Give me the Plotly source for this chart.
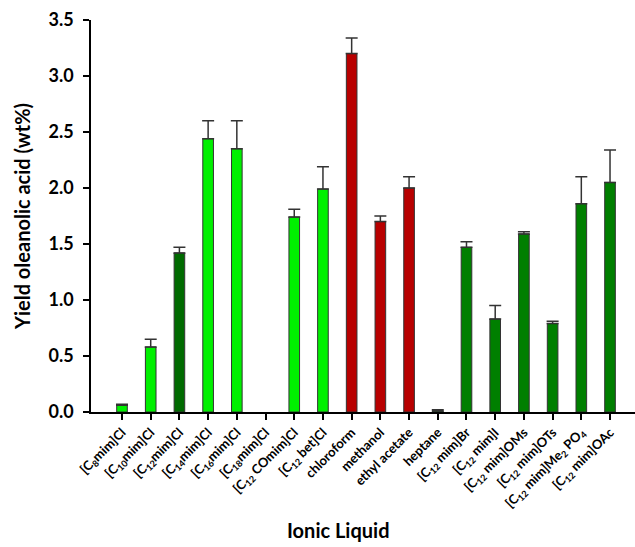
import plotly.graph_objects as go

categories = [
    "[C<sub>8</sub>mim]Cl", "[C<sub>10</sub>mim]Cl", "[C<sub>12</sub>mim]Cl",
    "[C<sub>14</sub>mim]Cl", "[C<sub>16</sub>mim]Cl", "[C<sub>18</sub>mim]Cl",
    "[C<sub>12</sub> COmim]Cl", "[C<sub>12</sub> bet]Cl", "chloroform", "methanol",
    "ethyl acetate", "heptane", "[C<sub>12</sub> mim]Br", "[C<sub>12</sub> mim]I",
    "[C<sub>12</sub> mim]OMs", "[C<sub>12</sub> mim]OTs",
    "[C<sub>12</sub> mim]Me<sub>2</sub> PO<sub>4</sub>", "[C<sub>12</sub> mim]OAc",
]
values = [0.06, 0.58, 1.42, 2.44, 2.35, None, 1.74, 1.99, 3.20, 1.70,
          2.00, 0.01, 1.47, 0.83, 1.59, 0.79, 1.86, 2.05]
errors = [0.01, 0.07, 0.05, 0.16, 0.25, None, 0.07, 0.20, 0.14, 0.05,
          0.10, 0.01, 0.05, 0.12, 0.02, 0.02, 0.24, 0.29]
colors = ["#00F000", "#00F000", "#006A00", "#00F000", "#00F000", "#00F000",
          "#00F000", "#00F000", "#B80000", "#B80000", "#B80000", "#007F00",
          "#007F00", "#007F00", "#007F00", "#007F00", "#007F00", "#007F00"]

FONT = "Lato, 'Open Sans', sans-serif"
x_idx = list(range(len(categories)))

fig = go.Figure(go.Bar(
    x=x_idx, y=values, width=0.37,
    marker=dict(color=colors, line=dict(color="#333333", width=1)),
    error_y=dict(type="data", array=errors, arrayminus=[0] * len(errors),
                 symmetric=False, color="#333333", thickness=1.5, width=6),
))

fig.update_layout(
    width=635, height=547,
    margin=dict(l=91, r=0, t=20, b=135, autoexpand=False),
    plot_bgcolor="white", paper_bgcolor="white",
    showlegend=False,
    font=dict(family=FONT, color="black"),
)
fig.update_xaxes(
    range=[-1.08, 17.87], tickmode="array", tickvals=x_idx, ticktext=categories,
    tickangle=-45, tickfont=dict(family=FONT, size=13, color="black", weight="bold"),
    showline=True, linecolor="black", linewidth=1.5, automargin=False,
    ticks="outside", ticklen=6, tickwidth=1.5, tickcolor="black",
    showgrid=False, zeroline=False,
)
fig.update_yaxes(
    range=[0, 3.5], tickmode="array", tickvals=[0, 0.5, 1, 1.5, 2, 2.5, 3, 3.5],
    ticktext=["0.0", "0.5", "1.0", "1.5", "2.0", "2.5", "3.0", "3.5"],
    tickfont=dict(family=FONT, size=18, color="black", weight="bold"),
    showline=True, linecolor="black", linewidth=1.5, automargin=False,
    ticks="outside", ticklen=6, tickwidth=1.5, tickcolor="black",
    ticklabelstandoff=6,
    showgrid=False, zeroline=False,
    title=dict(text="Yield oleanolic acid (wt%)",
               font=dict(family=FONT, size=20, color="black", weight="bold"),
               standoff=12),
)
fig.add_annotation(
    text="Ionic Liquid", xref="paper", yref="paper", x=0.455, y=-0.30,
    xanchor="center", yanchor="middle", showarrow=False,
    font=dict(family=FONT, size=20, color="black", weight="bold"),
)

fig.write_html("out.html", config={"displayModeBar": False},
               post_script="document.body.style.margin='0';")
